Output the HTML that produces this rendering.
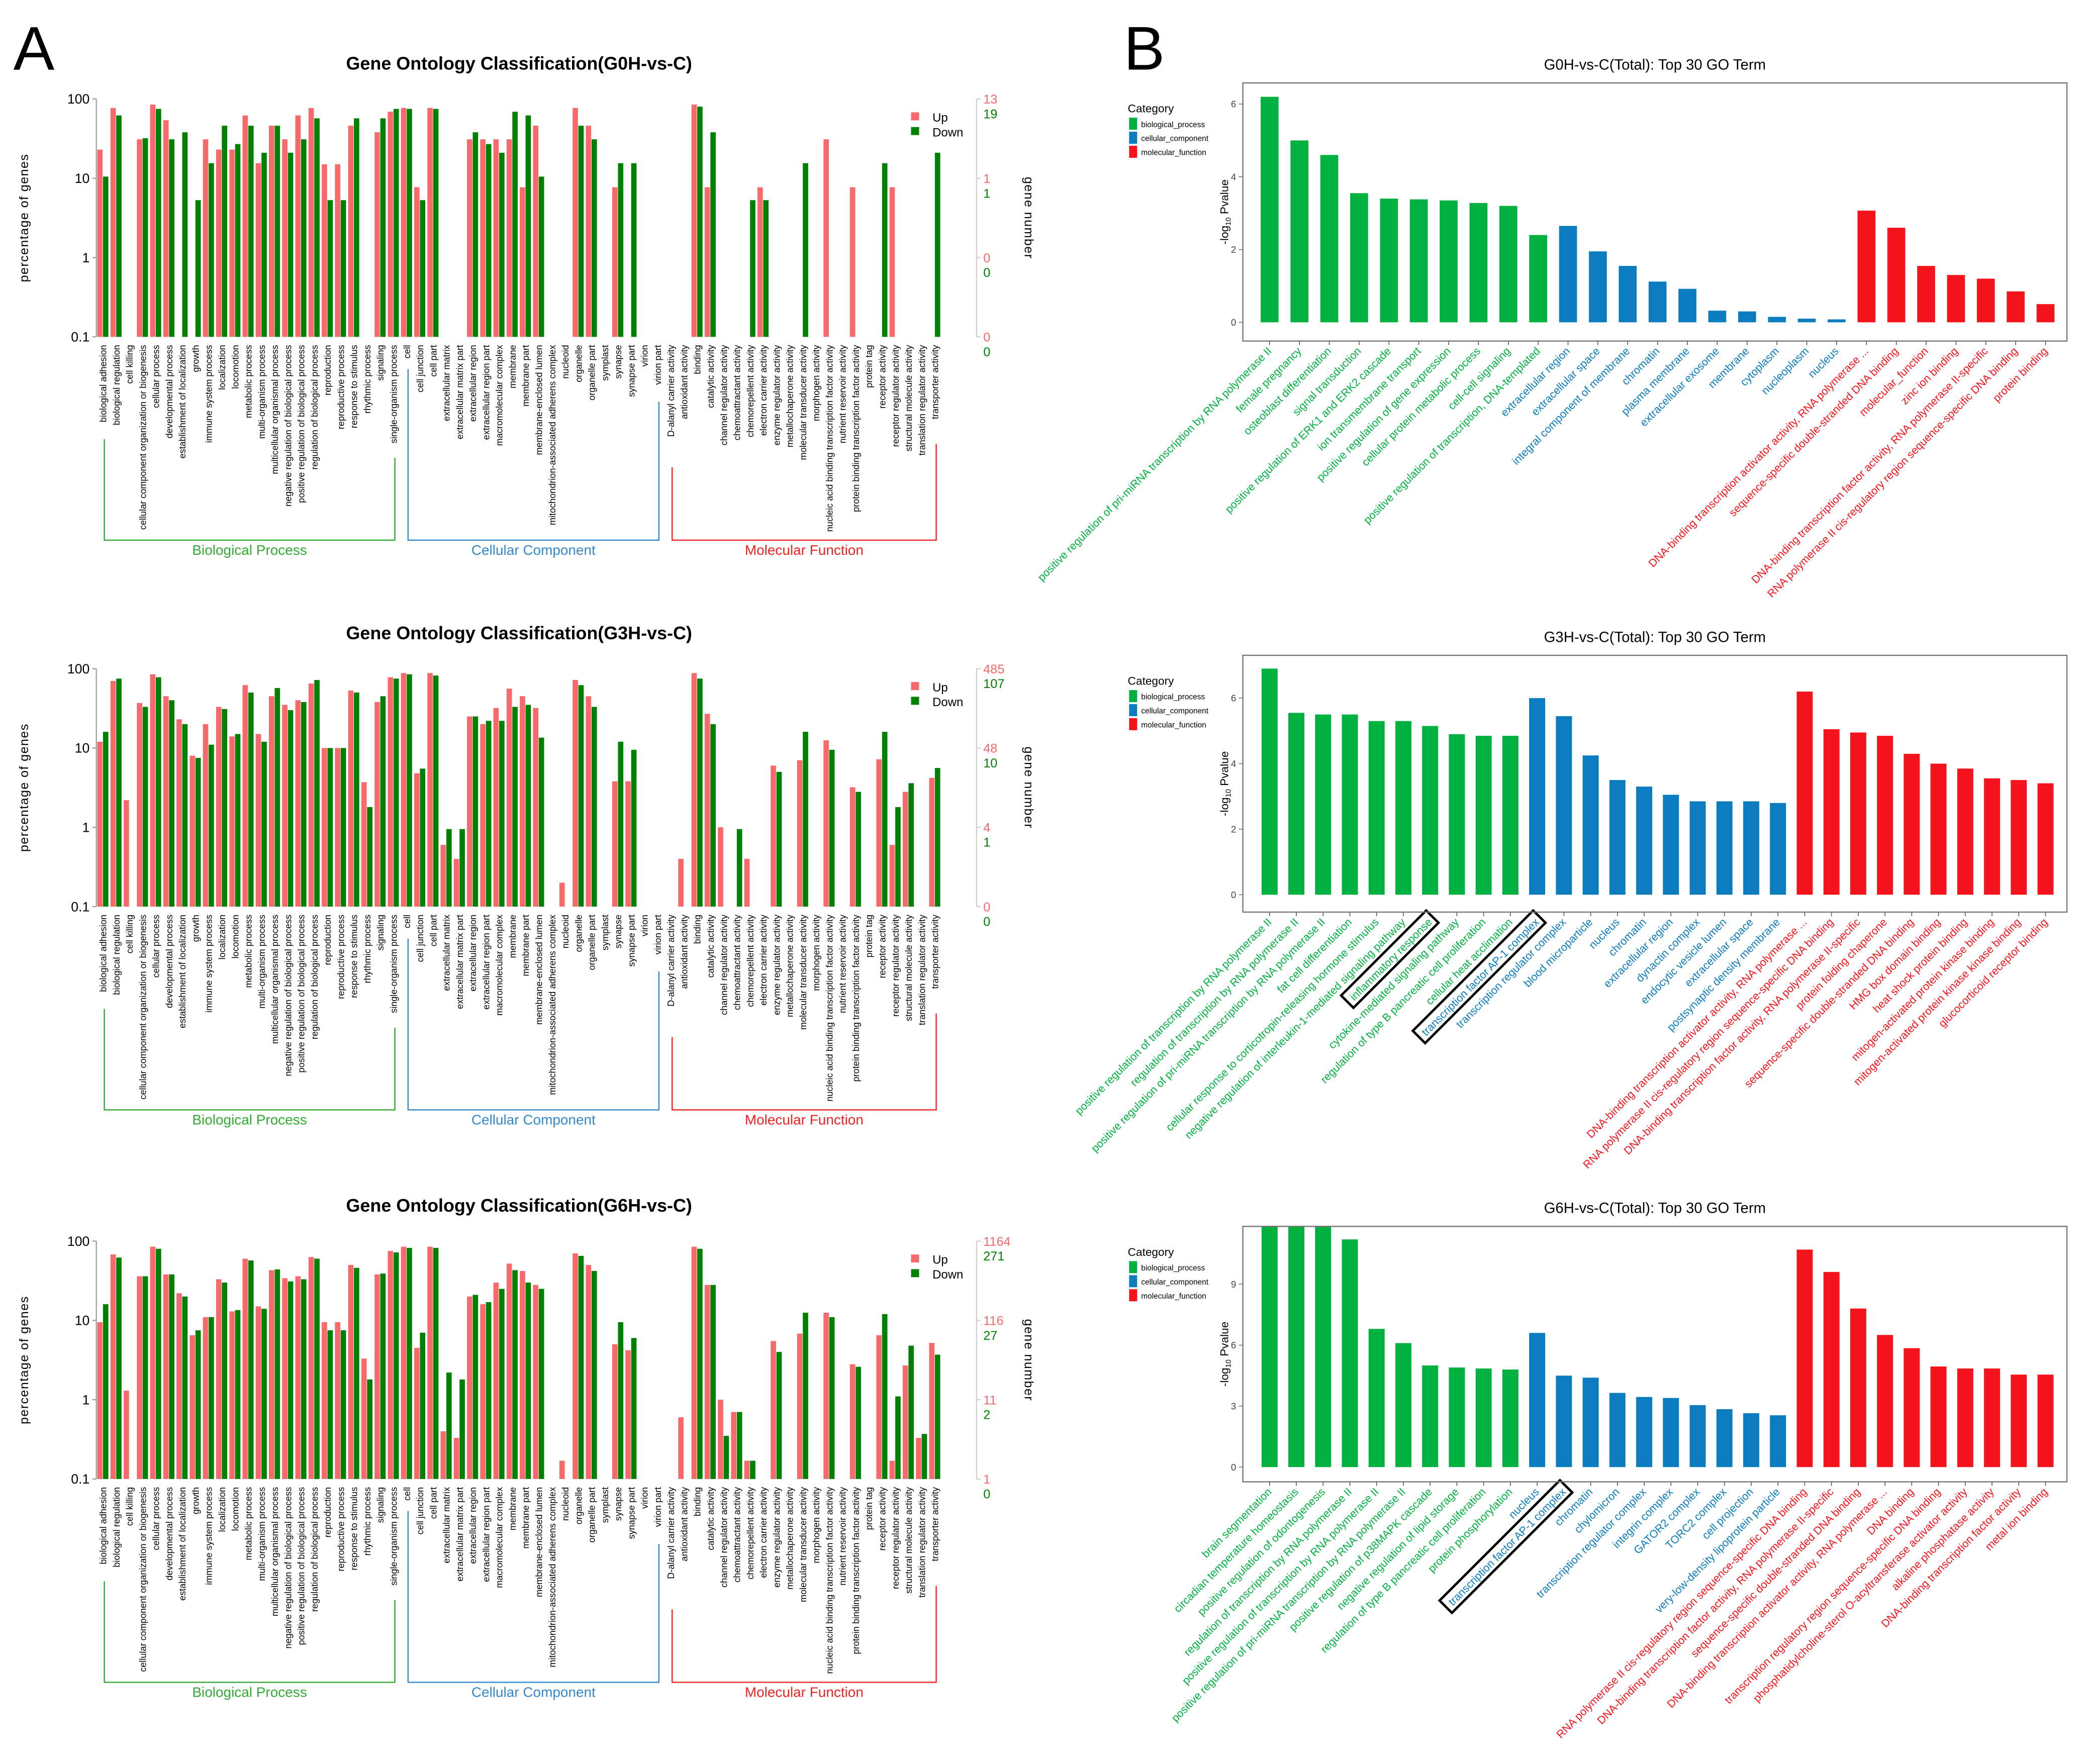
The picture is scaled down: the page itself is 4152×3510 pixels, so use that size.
<!DOCTYPE html>
<html><head><meta charset="utf-8"><style>
html,body{margin:0;padding:0;background:#fff}
svg{display:block;font-family:"Liberation Sans",sans-serif}
</style></head><body>
<svg id="fig" width="4152" height="3510" viewBox="0 0 1560 1319" preserveAspectRatio="none" xmlns="http://www.w3.org/2000/svg">
<rect width="1560" height="1319" fill="#fff"/>
<text x="10" y="52" font-size="46">A</text>
<text x="840" y="52" font-size="46">B</text>
</svg>
<script>
const goCats=["biological adhesion","biological regulation","cell killing","cellular component organization or biogenesis","cellular process","developmental process","establishment of localization","growth","immune system process","localization","locomotion","metabolic process","multi-organism process","multicellular organismal process","negative regulation of biological process","positive regulation of biological process","regulation of biological process","reproduction","reproductive process","response to stimulus","rhythmic process","signaling","single-organism process",
"cell","cell junction","cell part","extracellular matrix","extracellular matrix part","extracellular region","extracellular region part","macromolecular complex","membrane","membrane part","membrane-enclosed lumen","mitochondrion-associated adherens complex","nucleoid","organelle","organelle part","symplast","synapse","synapse part","virion","virion part",
"D-alanyl carrier activity","antioxidant activity","binding","catalytic activity","channel regulator activity","chemoattractant activity","chemorepellent activity","electron carrier activity","enzyme regulator activity","metallochaperone activity","molecular transducer activity","morphogen activity","nucleic acid binding transcription factor activity","nutrient reservoir activity","protein binding transcription factor activity","protein tag","receptor activity","receptor regulator activity","structural molecule activity","translation regulator activity","transporter activity"];
const g0Up=[23,77,0,31,85,54,0,0,31,23,23,62,15.5,46,31,62,77,15,15,46,0,38,69, 77,7.7,77,0,0,31,31,31,31,7.7,46,0,0,77,46,0,7.7,0,0,0, 0,0,85,7.7,0,0,0,7.7,0,0,0,0,31,0,7.7,0,0,7.7,0,0,0];
const g0Down=[10.5,62,0,32,75,31,38,5.3,15.5,46,27,46,21,46,21,31,57,5.3,5.3,57,0,57,75, 75,5.3,75,0,0,38,27,21,69,62,10.5,0,0,46,31,0,15.5,15.5,0,0, 0,0,80,38,0,0,5.3,5.3,0,0,15.5,0,0,0,0,0,15.5,0,0,0,21];
const g3Up=[12,70,2.2,37,85,45,23,8,20,33,14,62,15,45,35,40,65,10,10,53,3.7,38,78, 88,4.8,88,0.6,0.4,25,20,32,56,45,32,0,0.2,72,45,0,3.8,3.8,0,0, 0,0.4,88,27,1,0,0.4,0,6,0,7,0,12.5,0,3.2,0,7.2,0.6,2.8,0,4.2];
const g3Down=[16,75,0,33,78,40,20,7.5,11,31,15,50,12,57,30,38,72,10,10,50,1.8,45,75, 85,5.5,82,0.95,0.95,25,22,22,33,35,13.5,0,0,62,33,0,12,9.5,0,0, 0,0,75,20,0,0.95,0,0,5,0,16,0,9.5,0,2.8,0,16,1.8,3.6,0,5.6];
const g6Up=[9.5,68,1.3,36,85,38,22,6.5,11,33,13,60,15,43,34,36,63,9.5,9.5,50,3.3,38,75, 85,4.5,85,0.4,0.33,20,16,30,52,42,28,0,0.17,70,50,0,5,4.2,0,0, 0,0.6,85,28,1,0.7,0.17,0,5.5,0,6.8,0,12.5,0,2.8,0,6.5,0.17,2.7,0.33,5.2];
const g6Down=[16,62,0,36,80,38,20,7.5,11,30,13.5,57,14,44,31,33,60,7.5,7.5,46,1.8,39,72, 82,7,82,2.2,1.8,21,17,25,43,30,25,0,0,65,42,0,9.5,6,0,0, 0,0,80,28,0.35,0.7,0.17,0,4,0,12.5,0,11,0,2.6,0,12,1.1,4.8,0.37,3.7];
const g0Right=["13","19","1","1","0","0","0","0"];
const g3Right=["485","107","48","10","4","1","0","0"];
const g6Right=["1164","271","116","27","11","2","1","0"];

const t1Terms=["positive regulation of pri-miRNA transcription by RNA polymerase II","female pregnancy","osteoblast differentiation","signal transduction","positive regulation of ERK1 and ERK2 cascade","ion transmembrane transport","positive regulation of gene expression","cellular protein metabolic process","cell-cell signaling","positive regulation of transcription, DNA-templated","extracellular region","extracellular space","integral component of membrane","chromatin","plasma membrane","extracellular exosome","membrane","cytoplasm","nucleoplasm","nucleus","DNA-binding transcription activator activity, RNA polymerase ...","sequence-specific double-stranded DNA binding","molecular_function","zinc ion binding","DNA-binding transcription factor activity, RNA polymerase II-specific","RNA polymerase II cis-regulatory region sequence-specific DNA binding","protein binding"];
const t1Vals=[6.2,5.0,4.6,3.55,3.4,3.38,3.35,3.28,3.2,2.4,2.65,1.95,1.55,1.12,0.92,0.32,0.3,0.15,0.1,0.08,3.07,2.6,1.55,1.3,1.2,0.85,0.5];
const t1Cat=[0,0,0,0,0,0,0,0,0,0,1,1,1,1,1,1,1,1,1,1,2,2,2,2,2,2,2];
const t2Terms=["positive regulation of transcription by RNA polymerase II","regulation of transcription by RNA polymerase II","positive regulation of pri-miRNA transcription by RNA polymerase II","fat cell differentiation","cellular response to corticotropin-releasing hormone stimulus","negative regulation of interleukin-1-mediated signaling pathway","inflammatory response","cytokine-mediated signaling pathway","regulation of type B pancreatic cell proliferation","cellular heat acclimation","transcription factor AP-1 complex","transcription regulator complex","blood microparticle","nucleus","chromatin","extracellular region","dynactin complex","endocytic vesicle lumen","extracellular space","postsynaptic density membrane","DNA-binding transcription activator activity, RNA polymerase ...","RNA polymerase II cis-regulatory region sequence-specific DNA binding","DNA-binding transcription factor activity, RNA polymerase II-specific","protein folding chaperone","sequence-specific double-stranded DNA binding","HMG box domain binding","heat shock protein binding","mitogen-activated protein kinase binding","mitogen-activated protein kinase kinase binding","glucocorticoid receptor binding"];
const t2Vals=[6.9,5.55,5.5,5.5,5.3,5.3,5.15,4.9,4.85,4.85,6.0,5.45,4.25,3.5,3.3,3.05,2.85,2.85,2.85,2.8,6.2,5.05,4.95,4.85,4.3,4.0,3.85,3.55,3.5,3.4];
const t2Cat=[0,0,0,0,0,0,0,0,0,0,1,1,1,1,1,1,1,1,1,1,2,2,2,2,2,2,2,2,2,2];
const t3Terms=["brain segmentation","circadian temperature homeostasis","positive regulation of odontogenesis","regulation of transcription by RNA polymerase II","positive regulation of transcription by RNA polymerase II","positive regulation of pri-miRNA transcription by RNA polymerase II","positive regulation of p38MAPK cascade","negative regulation of lipid storage","regulation of type B pancreatic cell proliferation","protein phosphorylation","nucleus","transcription factor AP-1 complex","chromatin","chylomicron","transcription regulator complex","integrin complex","GATOR2 complex","TORC2 complex","cell projection","very-low-density lipoprotein particle","RNA polymerase II cis-regulatory region sequence-specific DNA binding","DNA-binding transcription factor activity, RNA polymerase II-specific","sequence-specific double-stranded DNA binding","DNA-binding transcription activator activity, RNA polymerase ...","DNA binding","transcription regulatory region sequence-specific DNA binding","phosphatidylcholine-sterol O-acyltransferase activator activity","alkaline phosphatase activity","DNA-binding transcription factor activity","metal ion binding"];
const t3Vals=[13,13,13,11.2,6.8,6.1,5.0,4.9,4.85,4.8,6.6,4.5,4.4,3.65,3.45,3.4,3.05,2.85,2.65,2.55,10.7,9.6,7.8,6.5,5.85,4.95,4.85,4.85,4.55,4.55];
const t3Cat=[0,0,0,0,0,0,0,0,0,0,1,1,1,1,1,1,1,1,1,1,2,2,2,2,2,2,2,2,2,2];
const t1Ticks=[0,2,4,6], t2Ticks=[0,2,4,6], t3Ticks=[0,3,6,9];

const NS="http://www.w3.org/2000/svg";
const svg=document.getElementById('fig');
function mk(tag,attrs,parent,txt){const e=document.createElementNS(NS,tag);for(const k in attrs)e.setAttribute(k,attrs[k]);if(txt!==undefined)e.textContent=txt;(parent||svg).appendChild(e);return e;}

function panelA(top,title,up,down,right,key){
  const g=mk('g',{});
  
  
  const dec=59.3, bot=top+3*dec;
  const y=v=>bot-dec*(Math.log10(v)+1);
  const x0=77, step=9.87, cx=i=>x0+i*step;
  const t=mk('text',{x:388,y:top-22,'font-size':13.5,'font-weight':'bold','text-anchor':'middle'},g,title);
  
  
  mk('line',{x1:72,y1:top,x2:72,y2:bot,stroke:'#999','stroke-width':0.8},g);
  ['100','10','1','0.1'].forEach((l,k)=>{
    const yy=top+k*dec;
    mk('line',{x1:69,y1:yy,x2:72,y2:yy,stroke:'#999','stroke-width':0.8},g);
    const tl=mk('text',{x:67,y:yy+3.5,'font-size':10,'text-anchor':'end'},g,l);
    
    
  });
  const yt=mk('text',{transform:`translate(21,${(top+bot)/2}) rotate(-90)`,'font-size':9.5,'text-anchor':'middle','letter-spacing':'0.5'},g,'percentage of genes');
  
  
  goCats.forEach((c,i)=>{
    if(up[i]>=0.1){const r=mk('rect',{x:cx(i)-4.3,y:y(up[i]),width:4,height:bot-y(up[i]),fill:'#f8696b'},g);
      
      }
    if(down[i]>=0.1){const r=mk('rect',{x:cx(i),y:y(down[i]),width:4,height:bot-y(down[i]),fill:'#008000'},g);
      
      }
    const lt=mk('text',{transform:`translate(${cx(i)+2.5},${bot+6}) rotate(-90)`,'font-size':6.8,'text-anchor':'end'},g,c);
    
    
  });
  mk('line',{x1:730,y1:top,x2:730,y2:bot,stroke:'#ccc','stroke-width':0.8},g);
  for(let k=0;k<4;k++){
    const yy=top+k*dec;
    mk('line',{x1:730,y1:yy,x2:733,y2:yy,stroke:'#ccc','stroke-width':0.8},g);
    const a=mk('text',{x:735,y:yy+3.5,'font-size':9.5,fill:'#f8696b'},g,right[2*k]);
    
    
    const b=mk('text',{x:735,y:yy+14.5,'font-size':9.5,fill:'#008000'},g,right[2*k+1]);
    
    
  }
  const rt=mk('text',{transform:`translate(766,${(top+bot)/2}) rotate(90)`,'font-size':9.5,'text-anchor':'middle','letter-spacing':'0.5'},g,'gene number');
  
  
  const lg=mk('g',{},g);
  
  
  mk('rect',{x:681,y:top+10,width:6,height:6,fill:'#f8696b'},lg);
  mk('text',{x:697,y:top+17,'font-size':9},lg,'Up');
  mk('rect',{x:681,y:top+21,width:6,height:6,fill:'#008000'},lg);
  mk('text',{x:697,y:top+28,'font-size':9},lg,'Down');
  const groups=[[0,22,'#33aa33','Biological Process'],[23,42,'#3388cc','Cellular Component'],[43,63,'#ee2222','Molecular Function']];
  const by=bot+152;
  groups.forEach(([a,b,col,name])=>{
    const xa=cx(a)+1, xb=cx(b)+1;
    const la=bot+10+goCats[a].length*3.5, lb=bot+10+goCats[b].length*3.5;
    const br=mk('path',{d:`M${xa},${la} V${by} H${xb} V${lb}`,fill:'none',stroke:col,'stroke-width':0.9},g);
    
    
    const gt=mk('text',{x:(xa+xb)/2,y:by+11,'font-size':10.5,fill:col,'text-anchor':'middle'},g,name);
    
    
  });
}
panelA(74,'Gene Ontology Classification(G0H-vs-C)',g0Up,g0Down,g0Right,'g0h');
panelA(500,'Gene Ontology Classification(G3H-vs-C)',g3Up,g3Down,g3Right,'g3h');
panelA(928,'Gene Ontology Classification(G6H-vs-C)',g6Up,g6Down,g6Right,'g6h');

const catCol=['#00b140','#0b7dbf','#f5141c'];
function panelB(boxTop,boxBot,zeroY,unit,title,terms,vals,cats,ticks,highlights,key){
  const g=mk('g',{});
  
  
  const L=929,R=1545;
  const t=mk('text',{x:1237,y:boxTop-10,'font-size':11,'text-anchor':'middle'},g,title);
  
  
  const n=terms.length, first=949, last=1529, step=(last-first)/(n-1);
  const bw=step*0.6;
  const clip=mk('clipPath',{id:'clip'+key},g);
  mk('rect',{x:L,y:boxTop,width:R-L,height:boxBot-boxTop},clip);
  const bars=mk('g',{'clip-path':`url(#clip${key})`},g);
  vals.forEach((v,i)=>{
    const cx=first+i*step;
    const r=mk('rect',{x:cx-bw/2,y:zeroY-v*unit,width:bw,height:v*unit,fill:catCol[cats[i]]},bars);
    
    
    mk('line',{x1:cx,y1:boxBot,x2:cx,y2:boxBot+3,stroke:'#555','stroke-width':0.6},g);
    const lt=mk('text',{transform:`translate(${cx+2},${boxBot+8}) rotate(-45)`,'font-size':8.2,'text-anchor':'end',fill:catCol[cats[i]]},g,terms[i]);
    
    
    if(highlights.includes(i)){
      const len=lt.getComputedTextLength?lt.getComputedTextLength():terms[i].length*4.1;
      const hb=mk('rect',{transform:`translate(${cx+2},${boxBot+8}) rotate(-45)`,x:-len-4,y:-10,width:len+7,height:13,fill:'none',stroke:'#000','stroke-width':1.8},g);
      
      
    }
  });
  mk('rect',{x:L,y:boxTop,width:R-L,height:boxBot-boxTop,fill:'none',stroke:'#777','stroke-width':0.9},g);
  ticks.forEach(tv=>{
    const yy=zeroY-tv*unit;
    mk('line',{x1:L-3,y1:yy,x2:L,y2:yy,stroke:'#777','stroke-width':0.6},g);
    const tl=mk('text',{x:L-5,y:yy+2.5,'font-size':7,'text-anchor':'end',fill:'#444'},g,String(tv));
    
    
  });
  const yt=mk('text',{transform:`translate(918,${(boxTop+boxBot)/2}) rotate(-90)`,'font-size':8.5,'text-anchor':'middle'},g);
  
  
  yt.appendChild(document.createTextNode('-log'));
  mk('tspan',{'font-size':5.5,dy:2},yt,'10');
  mk('tspan',{dy:-2},yt,' Pvalue');
  const lg=mk('g',{},g);
  
  
  const ly=boxTop+22;
  mk('text',{x:843,y:ly,'font-size':8.5},lg,'Category');
  ['biological_process','cellular_component','molecular_function'].forEach((s,k)=>{
    mk('rect',{x:844,y:ly+4+k*10.5,width:6,height:9,fill:catCol[k]},lg);
    mk('text',{x:853,y:ly+11+k*10.5,'font-size':5.8},lg,s);
  });
}
panelB(62,255,241,27.2,'G0H-vs-C(Total): Top 30 GO Term',t1Terms,t1Vals,t1Cat,t1Ticks,[],'g0h');
panelB(490,682,669,24.5,'G3H-vs-C(Total): Top 30 GO Term',t2Terms,t2Vals,t2Cat,t2Ticks,[6,10],'g3h');
panelB(917,1108,1097,15.2,'G6H-vs-C(Total): Top 30 GO Term',t3Terms,t3Vals,t3Cat,t3Ticks,[11],'g6h');
</script>
</body></html>
